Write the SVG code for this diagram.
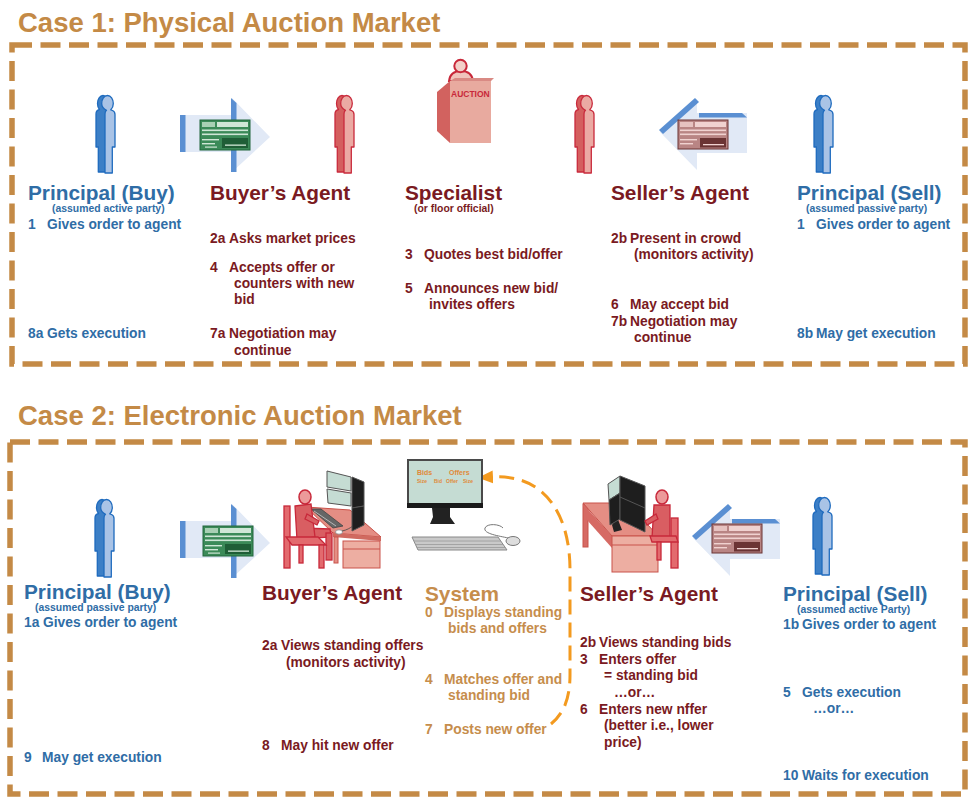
<svg xmlns="http://www.w3.org/2000/svg" xmlns:xlink="http://www.w3.org/1999/xlink" width="970" height="797" viewBox="0 0 970 797">
  <style>
    text { font-family: "Liberation Sans", Arial, sans-serif; font-weight: bold; }
    .title { font-size: 27.5px; fill: #C48A46; }
    .h { font-size: 20.8px; }
    .s { font-size: 10.4px; }
    .b { font-size: 13.8px; }
    .blue { fill: #2F6DA6; }
    .red { fill: #7A1A22; }
    .tan { fill: #C68D4C; }
    .frame { fill: none; stroke: #C48A46; stroke-width: 5.5; stroke-dasharray: 20 8.5; }
    .bo { fill: #3C7FC6; stroke: #1F6BBE; stroke-width: 1.3; stroke-linejoin: round; }
    .bl { fill: #A9C3E6; stroke: #1F6BBE; stroke-width: 1.3; stroke-linejoin: round; }
    .ro { fill: #D45F5E; stroke: #C92A3C; stroke-width: 1.3; stroke-linejoin: round; }
    .rl { fill: #EBAAA3; stroke: #C92A3C; stroke-width: 1.3; stroke-linejoin: round; }
    .arw { fill: #E1E9F6; }
    .arwEdge { fill: #5A8FD2; }
    .deskTop { fill: #E48E84; stroke: #C9524A; stroke-width: 1; }
    .deskSide { fill: #D66A64; stroke: #C9524A; stroke-width: 1; }
    .deskFront { fill: #EDAEA2; stroke: #C9524A; stroke-width: 1; }
    .chair { fill: #E36A6E; stroke: #C8283A; stroke-width: 1.3; }
    .body { fill: #D95E62; stroke: #C8283A; stroke-width: 1.3; }
    .skin { fill: #EC9A9A; stroke: #C8283A; stroke-width: 1.5; }
    .scr { fill: #C5DCD3; stroke: #555; stroke-width: 1; }
    .dark { fill: #1E1E1E; stroke: #555; stroke-width: 1; }
    .flow { fill: none; stroke: #F39A1F; stroke-width: 3; stroke-dasharray: 15 8; }
    .scrTxt { fill: #E08A3A; }
  </style>
  <defs>
    <!-- standing figure: shaded side profile plus lit front face -->
    <path id="figSide" d="M 8,0.5 C 11,0.5 13.5,4 13.5,8.5 C 13.5,11.5 12.5,13.5 11,15 L 12,15.5 L 12,77 L 3.3,77 L 3.3,52 L 1,52 L 1,19 C 1,16.5 2.5,15 4.5,14.5 C 3.2,13 2.5,11 2.5,8.5 C 2.5,4 5,0.5 8,0.5 Z"/>
    <path id="figFront" d="M 12.5,0.5 C 15.8,0.5 18.3,4 18.3,8.5 C 18.3,11.5 17.2,13.5 15.8,14.8 L 17.5,15.5 C 19,16.2 20,17.5 20,19.5 L 20,52 L 17.3,52 L 17.3,78 L 10,78 L 10,19 C 10,17 10.5,16 11.5,15.3 C 8.5,13.8 6.7,11.5 6.7,8.5 C 6.7,4 9.2,0.5 12.5,0.5 Z"/>
    <g id="personBlue">
      <use href="#figSide" class="bo"/>
      <use href="#figFront" class="bl"/>
    </g>
    <g id="personRed">
      <use href="#figSide" class="ro"/>
      <use href="#figFront" class="rl"/>
    </g>
    <!-- order tickets -->
    <g id="ticketBuy">
      <rect x="0" y="0" width="50" height="30" fill="#3B8A58" stroke="#22673D" stroke-width="1"/>
      <rect x="2" y="2" width="13" height="5" fill="#A8D0B4"/>
      <rect x="17" y="2" width="31" height="5" fill="#CFE6D6"/>
      <rect x="2" y="9.5" width="46" height="1.6" fill="#CFE6D6"/>
      <rect x="2" y="13.5" width="46" height="1.6" fill="#CFE6D6"/>
      <rect x="2" y="19" width="17" height="1.4" fill="#CFE6D6"/>
      <rect x="2" y="23" width="13" height="1.4" fill="#CFE6D6"/>
      <rect x="5" y="26.5" width="12" height="1.2" fill="#CFE6D6"/>
      <rect x="22" y="18" width="26" height="10" fill="#1F5E37"/>
      <rect x="25" y="24.5" width="21" height="1.3" fill="#CFE6D6"/>
    </g>
    <g id="ticketSell">
      <rect x="0" y="0" width="50" height="29" fill="#B98584" stroke="#6B3434" stroke-width="1"/>
      <rect x="2" y="2" width="13" height="5" fill="#E6C2C0"/>
      <rect x="17" y="2" width="31" height="5" fill="#F0D2D0"/>
      <rect x="2" y="9.5" width="46" height="1.6" fill="#F0D2D0"/>
      <rect x="2" y="13.5" width="46" height="1.6" fill="#F0D2D0"/>
      <rect x="2" y="19" width="17" height="1.4" fill="#F0D2D0"/>
      <rect x="2" y="23" width="13" height="1.4" fill="#F0D2D0"/>
      <rect x="22" y="18" width="26" height="9.5" fill="#6B3434"/>
      <rect x="25" y="24" width="21" height="1.3" fill="#F0D2D0"/>
    </g>
    <g id="arrowRight">
      <polygon class="arw" points="180,115 232,115 232,98 270,137 232,172 232,152 180,152"/>
      <rect class="arwEdge" x="180" y="115" width="5.5" height="37"/>
      <polygon class="arwEdge" points="231,98 236.5,103 236.5,172 231,172"/>
    </g>
    <g id="arrowLeft">
      <polygon class="arw" points="660,132 697,99 697,113 747,113 747,153 697,153 697,170"/>
      <polygon class="arwEdge" points="659,130 695,98 699,102 663,134"/>
      <polygon class="arwEdge" points="699,113 742,113 747,117.5 699,117.5"/>
    </g>
    <marker id="flowHead" markerWidth="16" markerHeight="14" refX="0" refY="6.5" orient="auto" markerUnits="userSpaceOnUse">
      <path d="M0,0 L15,6.5 L0,13 Z" fill="#F39A1F"/>
    </marker>
  </defs>

  <rect width="970" height="797" fill="#FFFFFF"/>

  <!-- Case 1 -->
  <text class="title" x="18" y="32">Case 1: Physical Auction Market</text>
  <rect class="frame" x="12" y="45" width="953" height="319"/>

  <!-- Case 2 -->
  <text class="title" x="18" y="425">Case 2: Electronic Auction Market</text>
  <rect class="frame" x="10" y="442" width="955" height="352"/>

  <g id="connectors">
    <g id="c1-buy-order">
      <use href="#arrowRight"/>
      <use href="#ticketBuy" x="200" y="120"/>
    </g>
    <g id="c1-sell-order">
      <use href="#arrowLeft"/>
      <use href="#ticketSell" x="678" y="120"/>
    </g>
    <g id="c2-buy-order">
      <use href="#arrowRight" y="406"/>
      <use href="#ticketBuy" x="203" y="526"/>
    </g>
    <g id="c2-sell-order">
      <use href="#arrowLeft" x="33" y="406"/>
      <use href="#ticketSell" x="712" y="524"/>
    </g>
    <path id="c2-post-offer" class="flow" d="M 551,724 C 563,714 570,700 570,675 L 570,570 C 570,515 545,474 493,477" marker-end="url(#flowHead)"/>
  </g>

  <!-- Case 1 nodes -->
  <g id="c1-principal-buy">
    <use href="#personBlue" x="95" y="95"/>
    <text class="h blue" x="28" y="200">Principal (Buy)</text>
    <text class="s blue" x="52" y="212">(assumed active party)</text>
    <text class="b blue" x="28" y="229">1<tspan x="47">Gives order to agent</tspan></text>
    <text class="b blue" x="28" y="338">8a<tspan x="47">Gets execution</tspan></text>
  </g>

  <g id="c1-buyers-agent">
    <use href="#personRed" x="334" y="95"/>
    <text class="h red" x="210" y="200">Buyer’s Agent</text>
    <text class="b red" x="210" y="243">2a<tspan x="229">Asks market prices</tspan></text>
    <text class="b red" x="210" y="272">4<tspan x="229">Accepts offer or</tspan></text>
    <text class="b red" x="234" y="288">counters with new</text>
    <text class="b red" x="234" y="304">bid</text>
    <text class="b red" x="210" y="338">7a<tspan x="229">Negotiation may</tspan></text>
    <text class="b red" x="234" y="355">continue</text>
  </g>

  <g id="c1-specialist">
    <g id="podium">
      <path d="M 449,81 C 450,73 455,71 461,71 C 467,71 472,73 473,81 Z" fill="#F0C4BC" stroke="#C8283A" stroke-width="2"/>
      <circle cx="460.5" cy="66" r="6.2" fill="#F3CFC8" stroke="#C8283A" stroke-width="2"/>
      <polygon points="450,81 455,78 494,78 491,81" fill="#D98A84"/>
      <polygon points="437,92 450,81 450,143 437,131" fill="#D2625F"/>
      <rect x="450" y="81" width="41" height="62" fill="#E8AA9F"/>
      <text x="451" y="97" font-size="8.5px" fill="#C8283A">AUCTION</text>
    </g>
    <text class="h red" x="405" y="200">Specialist</text>
    <text class="s red" x="414" y="212">(or floor official)</text>
    <text class="b red" x="405" y="259">3<tspan x="424">Quotes best bid/offer</tspan></text>
    <text class="b red" x="405" y="293">5<tspan x="424">Announces new bid/</tspan></text>
    <text class="b red" x="429" y="309">invites offers</text>
  </g>

  <g id="c1-sellers-agent">
    <use href="#personRed" x="574" y="95"/>
    <text class="h red" x="611" y="200">Seller’s Agent</text>
    <text class="b red" x="611" y="243">2b<tspan x="630">Present in crowd</tspan></text>
    <text class="b red" x="634" y="259">(monitors activity)</text>
    <text class="b red" x="611" y="309">6<tspan x="630">May accept bid</tspan></text>
    <text class="b red" x="611" y="326">7b<tspan x="630">Negotiation may</tspan></text>
    <text class="b red" x="634" y="342">continue</text>
  </g>

  <g id="c1-principal-sell">
    <use href="#personBlue" x="813" y="95"/>
    <text class="h blue" x="797" y="200">Principal (Sell)</text>
    <text class="s blue" x="806" y="212">(assumed passive party)</text>
    <text class="b blue" x="797" y="229">1<tspan x="816">Gives order to agent</tspan></text>
    <text class="b blue" x="797" y="338">8b<tspan x="816">May get execution</tspan></text>
  </g>

  <!-- Case 2 nodes -->
  <g id="c2-principal-buy">
    <use href="#personBlue" x="94" y="499"/>
    <text class="h blue" x="24" y="599">Principal (Buy)</text>
    <text class="s blue" x="35" y="611">(assumed passive party)</text>
    <text class="b blue" x="24" y="627">1a<tspan x="43">Gives order to agent</tspan></text>
    <text class="b blue" x="24" y="762">9<tspan x="42">May get execution</tspan></text>
  </g>

  <g id="c2-buyers-agent">
    <g id="buyer-desk">
      <!-- desk -->
      <polygon class="deskTop" points="306,507 350,510 381,537 333,533"/>
      <polygon points="333,533 381,537 381,541 333,537" fill="#D06A60"/>
      <rect class="deskTop" x="334" y="537" width="4" height="26"/>
      <rect class="deskFront" x="343" y="541" width="37" height="27"/>
      <line x1="343" y1="549" x2="380" y2="549" stroke="#C9524A" stroke-width="1"/>
      <polygon points="311,509 321,509 343,526 333,528" fill="#666" stroke="#444" stroke-width="0.8"/>
      <line x1="314" y1="511" x2="336" y2="526" stroke="#CCC" stroke-width="0.8"/>
      <ellipse cx="339" cy="532" rx="3.5" ry="2.2" fill="#FFF" stroke="#888" stroke-width="0.8"/>
      <path d="M 342,531 C 347,530 350,528 353,526" fill="none" stroke="#444" stroke-width="0.8"/>
      <!-- monitors -->
      <polygon class="scr" points="327,471 351,477 351,491 327,487"/>
      <polygon class="scr" points="327,489 351,493 351,506 328,503"/>
      <polygon class="dark" points="352,477 364,482 364,506 352,508"/>
      <polygon class="dark" points="352,508 364,506 364,525 352,531"/>
      <!-- seated agent -->
      <rect class="chair" x="284" y="506" width="6" height="62"/>
      <polygon class="body" points="300,528 330,529 331,537 300,539"/>
      <rect class="body" x="326" y="533" width="6" height="27"/>
      <polygon class="body" points="295,506 311,504 315,537 297,540"/>
      <polygon class="body" points="307,514 319,521 317,525 305,519"/>
      <ellipse class="skin" cx="305" cy="497" rx="6" ry="7"/>
      <polygon class="chair" points="286,537 318,537 326,545 292,545"/>
      <rect class="chair" x="319" y="545" width="5" height="23"/>
      <rect class="chair" x="299" y="545" width="4" height="18"/>
    </g>
    <text class="h red" x="262" y="600">Buyer’s Agent</text>
    <text class="b red" x="262" y="650">2a<tspan x="281">Views standing offers</tspan></text>
    <text class="b red" x="286" y="667">(monitors activity)</text>
    <text class="b red" x="262" y="750">8<tspan x="281">May hit new offer</tspan></text>
  </g>

  <g id="c2-system">
    <g id="terminal">
      <rect x="407" y="459" width="76" height="49" fill="#4A4A4A"/>
      <rect x="409" y="461" width="72" height="42" fill="#C5DCD3"/>
      <rect x="407" y="503" width="76" height="5" fill="#1A1A1A"/>
      <polygon points="432,508 450,508 450,517 455,524 430,524 433,517" fill="#222"/>
      <text class="scrTxt" x="417" y="475" font-size="7px">Bids</text>
      <text class="scrTxt" x="449" y="475" font-size="7px">Offers</text>
      <text class="scrTxt" x="417" y="483" font-size="5px">Size</text>
      <text class="scrTxt" x="434" y="483" font-size="5px">Bid</text>
      <text class="scrTxt" x="446" y="483" font-size="5px">Offer</text>
      <text class="scrTxt" x="463" y="483" font-size="5px">Size</text>
      <path d="M 508,538 C 500,536 483,534 485,528 C 487,523 500,524 503,528" fill="none" stroke="#777" stroke-width="1"/>
      <polygon points="412,537 498,537 507,550 418,550" fill="#C9C9C9" stroke="#888" stroke-width="1"/>
      <line x1="414" y1="541" x2="501" y2="541" stroke="#999" stroke-width="0.8"/>
      <line x1="415" y1="544.5" x2="503" y2="544.5" stroke="#999" stroke-width="0.8"/>
      <line x1="417" y1="547.5" x2="505" y2="547.5" stroke="#999" stroke-width="0.8"/>
      <ellipse cx="513" cy="541" rx="7" ry="4.5" fill="#DDD" stroke="#777" stroke-width="1"/>
    </g>
    <text class="h tan" x="425" y="601">System</text>
    <text class="b tan" x="425" y="617">0<tspan x="444">Displays standing</tspan></text>
    <text class="b tan" x="448" y="633">bids and offers</text>
    <text class="b tan" x="425" y="684">4<tspan x="444">Matches offer and</tspan></text>
    <text class="b tan" x="448" y="700">standing bid</text>
    <text class="b tan" x="425" y="734">7<tspan x="444">Posts new offer</tspan></text>
  </g>

  <g id="c2-sellers-agent">
    <g id="seller-desk">
      <rect class="deskSide" x="583" y="504" width="5" height="43"/>
      <polygon points="583,504 612,536 612,548 587,520" fill="#D66A64"/>
      <polygon class="deskTop" points="583,503 628,503 658,536 612,536"/>
      <rect class="deskFront" x="612" y="536" width="46" height="36"/>
      <line x1="612" y1="545" x2="658" y2="545" stroke="#C9524A" stroke-width="1"/>
      <polygon points="612,525 617,517 622,530 614,532" fill="#222"/>
      <polygon class="scr" points="608,484 620,476 620,493 609,500"/>
      <polygon class="dark" points="609,500 620,493 620,519 610,525"/>
      <polygon class="dark" points="620,476 645,486 645,532 620,520"/>
      <line x1="620" y1="497" x2="645" y2="508" stroke="#555" stroke-width="1"/>
      <rect class="chair" x="671" y="518" width="7" height="50"/>
      <polygon class="body" points="654,505 670,505 670,538 652,538"/>
      <polygon class="body" points="656,514 645,521 647,525 658,519"/>
      <ellipse class="skin" cx="662" cy="497" rx="6" ry="7"/>
      <polygon class="chair" points="650,536 676,536 678,542 652,542"/>
      <rect class="chair" x="657" y="542" width="4" height="18"/>
    </g>
    <text class="h red" x="580" y="601">Seller’s Agent</text>
    <text class="b red" x="580" y="647">2b<tspan x="599">Views standing bids</tspan></text>
    <text class="b red" x="580" y="664">3<tspan x="599">Enters offer</tspan></text>
    <text class="b red" x="604" y="680">= standing bid</text>
    <text class="b red" x="614" y="697">…or…</text>
    <text class="b red" x="580" y="714">6<tspan x="599">Enters new nffer</tspan></text>
    <text class="b red" x="604" y="730">(better i.e., lower</text>
    <text class="b red" x="604" y="747">price)</text>
  </g>

  <g id="c2-principal-sell">
    <use href="#personBlue" x="812" y="497"/>
    <text class="h blue" x="783" y="601">Principal (Sell)</text>
    <text class="s blue" x="797" y="613">(assumed active Party)</text>
    <text class="b blue" x="783" y="629">1b<tspan x="802">Gives order to agent</tspan></text>
    <text class="b blue" x="783" y="697">5<tspan x="802">Gets execution</tspan></text>
    <text class="b blue" x="813" y="713">…or…</text>
    <text class="b blue" x="783" y="780">10<tspan x="802">Waits for execution</tspan></text>
  </g>
</svg>
